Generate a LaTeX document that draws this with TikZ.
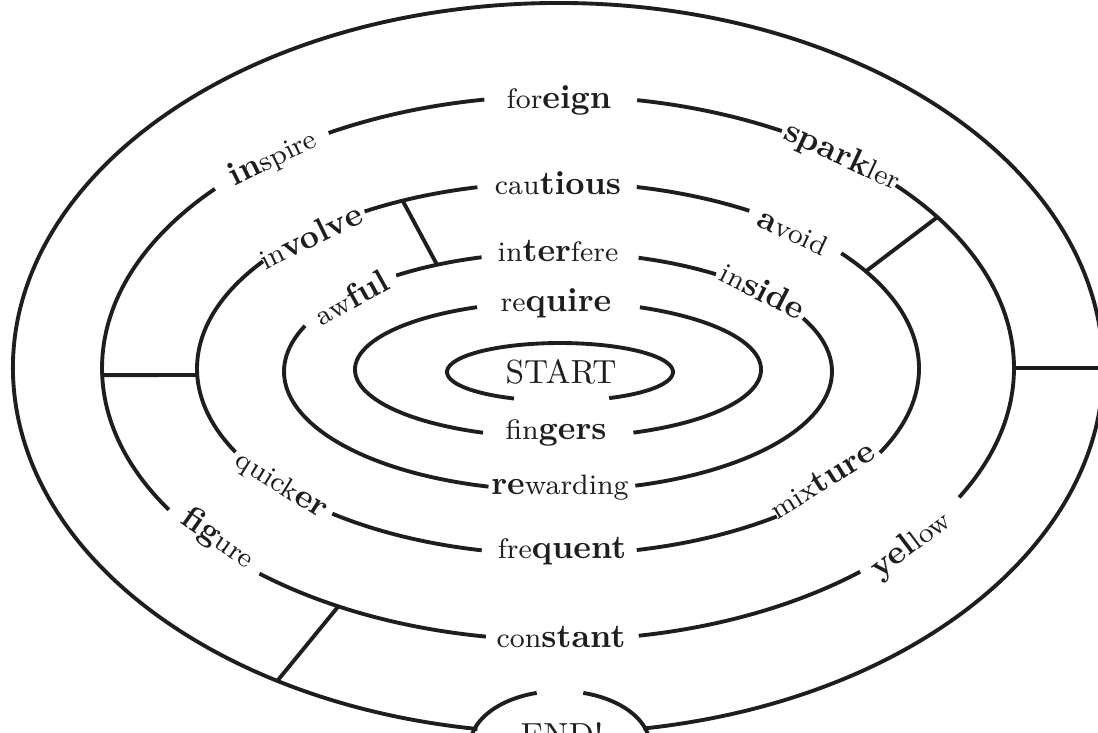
\documentclass[tikz,border=0pt]{standalone}
\definecolor{mazeink}{RGB}{30,30,30}
\usetikzlibrary{calc}
\newcommand{\stress}[1]{{\fontsize{9.5}{11}\selectfont\bfseries #1}}

\begin{document}
\begin{tikzpicture}[x=0.01cm,y=0.01cm,
      ring/.style={draw=mazeink,line width=1.1pt},
      word/.style={font=\fontsize{8}{9}\selectfont,text=mazeink,inner sep=1pt},
      goal/.style={font=\fontsize{9.5}{11}\selectfont,text=mazeink,inner sep=1pt}]

      \useasboundingbox (0,0) rectangle (1098,-732);
      \clip (0,0) rectangle (1098,-732);

      % Anel externo e chegada
      \draw[ring] (558,-368) ++(-81:545 and 365)
        arc[start angle=-81,end angle=261.5,x radius=545,y radius=365];
      \draw[ring] (560,-746) ++(105:90 and 55)
        arc[start angle=105,end angle=435,x radius=90,y radius=55];

      % Anel 4
      \foreach \a/\b in {99.3/120.2,138.8/211.4,229.1/260.9,280.2/311.5,-28.4/42.2,60.6/80}{
        \draw[ring] (558,-368) ++(\a:456 and 272)
          arc[start angle=\a,end angle=\b,x radius=456,y radius=272];
      }

      % Anel 3
      \foreach \a/\b in {102.9/122.4,144.8/206.7,231.3/257.8,282.6/307.3,-26.9/38.3,58/77.4}{
        \draw[ring] (558,-368.5) ++(\a:361 and 186)
          arc[start angle=\a,end angle=\b,x radius=361,y radius=186];
      }

      % Anel 2
      \foreach \a/\b in {54.8/72.9,-73.6/26.6,157.4/255.3,106.2/126.2}{
        \draw[ring] (558,-371.5) ++(\a:274 and 119)
          arc[start angle=\a,end angle=\b,x radius=274,y radius=119];
      }

      % Anel 1
      \foreach \a/\b in {113.5/248.3,-68.2/66.2}{
        \draw[ring] (558,-369.5) ++(\a:203 and 68)
          arc[start angle=\a,end angle=\b,x radius=203,y radius=68];
      }

      % Saida
      \draw[ring] (560,-372) ++(-64.2:113 and 29)
        arc[start angle=-64.2,end angle=246,x radius=113,y radius=29];

      % Paredes entre aneis
      \path (558,-368)   ++(181.5:456 and 272) coordinate (w1a);
      \path (558,-368.5) ++(182:361 and 186)   coordinate (w1b);
      \path (558,-368.5) ++(115.5:361 and 186) coordinate (w2a);
      \path (558,-371.5) ++(116.2:274 and 119) coordinate (w2b);
      \path (558,-368)   ++(33.7:456 and 272)  coordinate (w3a);
      \path (558,-368.5) ++(31.5:361 and 186)  coordinate (w3b);
      \path (558,-368)   ++(0:456 and 272)     coordinate (w4a);
      \path (558,-368)   ++(0:545 and 365)     coordinate (w4b);
      \path (558,-368)   ++(239:545 and 365)   coordinate (w5a);
      \path (558,-368)   ++(241.2:456 and 272) coordinate (w5b);
      \draw[ring] (w1a) -- (w1b);
      \draw[ring] (w2a) -- (w2b);
      \draw[ring] (w3a) -- (w3b);
      \draw[ring] (w4a) -- (w4b);
      \draw[ring] (w5a) -- (w5b);

      % Palavras
      \node[goal] (start)  at (561,-372) {START};
      \node[goal] (finish) at (562,-735) {END!};

      \node[word] (foreign)   at (559,-100) {for\stress{eign}};
      \node[word] (cautious)  at (558,-183) {cau\stress{tious}};
      \node[word] (interfere) at (558,-251) {in\stress{ter}fere};
      \node[word] (require)   at (556,-303) {re\stress{quire}};
      \node[word] (fingers)   at (556,-433) {fin\stress{gers}};
      \node[word] (rewarding) at (560,-488) {\stress{re}warding};
      \node[word] (frequent)  at (562,-551) {fre\stress{quent}};
      \node[word] (constant)  at (561,-637) {con\stress{stant}};

      \node[word,rotate=26]  (inspire)  at (273,-158) {\stress{in}spire};
      \node[word,rotate=-25] (sparkler) at (842,-157) {\stress{spark}ler};
      \node[word,rotate=26]  (involve)  at (310,-236) {in\stress{volve}};
      \node[word,rotate=-25] (avoid)    at (793,-232) {\stress{a}void};
      \node[word,rotate=29]  (awful)    at (351,-297) {aw\stress{ful}};
      \node[word,rotate=-27] (inside)   at (763,-290) {in\stress{side}};
      \node[word,rotate=-32] (quicker)  at (281,-486) {quick\stress{er}};
      \node[word,rotate=32]  (mixture)  at (822,-480) {mix\stress{ture}};
      \node[word,rotate=-35] (figure)   at (218,-539) {\stress{fig}ure};
      \node[word,rotate=37]  (yellow)   at (911,-545) {\stress{yel}low};
    \end{tikzpicture}
\end{document}
